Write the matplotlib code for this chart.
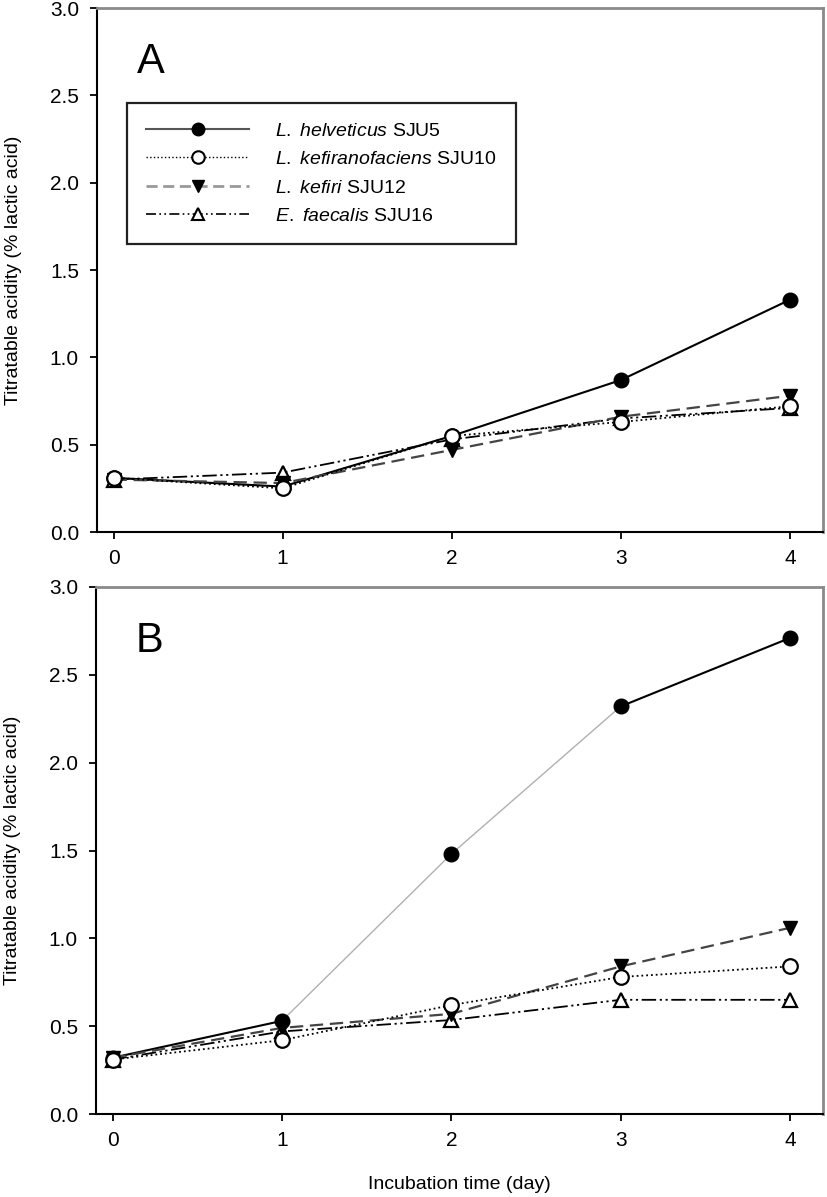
import matplotlib
matplotlib.use("Agg")
import matplotlib.pyplot as plt
from matplotlib.lines import Line2D

plt.rcParams['font.family'] = ['Liberation Sans', 'DejaVu Sans']
plt.rcParams['mathtext.fontset'] = 'custom'
plt.rcParams['mathtext.it'] = 'Liberation Sans:italic'
plt.rcParams['mathtext.rm'] = 'Liberation Sans'

days = [0, 1, 2, 3, 4]
xticks = [0, 1, 2, 3, 4]
yticks = [0.0, 0.5, 1.0, 1.5, 2.0, 2.5, 3.0]

labels = [r'$\it{L.}$ $\it{helveticus}$ SJU5',
          r'$\it{L.}$ $\it{kefiranofaciens}$ SJU10',
          r'$\it{L.}$ $\it{kefiri}$ SJU12',
          r'$\it{E.}$ $\it{faecalis}$ SJU16']

# Panel A
a_helveticus = [0.31, 0.26, 0.55, 0.87, 1.33]
a_kefiranofaciens = [0.31, 0.25, 0.55, 0.63, 0.72]
a_kefiri = [0.30, 0.28, 0.47, 0.66, 0.78]
a_faecalis = [0.30, 0.34, 0.53, 0.65, 0.71]

# Panel B
b_helveticus = [0.32, 0.53, 1.48, 2.32, 2.71]
b_kefiranofaciens = [0.31, 0.42, 0.62, 0.78, 0.84]
b_kefiri = [0.32, 0.49, 0.57, 0.84, 1.06]
b_faecalis = [0.31, 0.47, 0.535, 0.65, 0.65]

W, H = 827, 1197
fig = plt.figure(figsize=(W / 100, H / 100), dpi=100)

def px_axes(x0, y0, x1, y1):
    return fig.add_axes([x0 / W, 1 - y1 / H, (x1 - x0) / W, (y1 - y0) / H])

axA = px_axes(97, 8, 823, 532)
axB = px_axes(96, 587, 823, 1114)

ms = 10.5
styles = {
    'hel': dict(color='black', ls='-', lw=1.5, marker='o', mfc='black', mec='black', ms=ms),
    'kfc': dict(color='black', ls=':', lw=1.3, marker='o', mfc='white', mec='black', mew=1.6, ms=ms),
    'kef': dict(color='#444444', ls=(0, (6, 3)), lw=1.6, marker='v', mfc='black', mec='black', ms=ms),
    'fae': dict(color='black', ls=(0, (8, 2, 1.2, 2, 1.2, 2)), lw=1.3, marker='^', mfc='white', mec='black', mew=1.6, ms=ms),
}

def draw(ax, hel, kfc, kef, fae, split=False):
    if split:
        ax.plot(days[1:4], hel[1:4], color='#b0b0b0', lw=1.0, zorder=2)
        ax.plot(days[:2], hel[:2], color='black', lw=1.5, zorder=2)
        ax.plot(days[3:], hel[3:], color='black', lw=1.5, zorder=2)
        ax.plot(days, hel, ls='none', marker='o', mfc='black', mec='black', ms=ms, zorder=2)
    else:
        ax.plot(days, hel, zorder=2, **styles['hel'])
    ax.plot(days, fae, zorder=3, **styles['fae'])
    ax.plot(days, kef, zorder=4, **styles['kef'])
    ax.plot(days, kfc, zorder=5, **styles['kfc'])

draw(axA, a_helveticus, a_kefiranofaciens, a_kefiri, a_faecalis)
draw(axB, b_helveticus, b_kefiranofaciens, b_kefiri, b_faecalis, split=True)

for ax, letter in ((axA, 'A'), (axB, 'B')):
    ax.set_xlim(-0.098, 4.195)
    ax.set_ylim(0, 3.0)
    ax.set_xticks(xticks)
    ax.set_yticks(yticks)
    ax.set_yticklabels([f'{v:.1f}' for v in yticks])
    ax.tick_params(direction='out', length=5, width=1.3, labelsize=15, colors='black')
    ax.tick_params(axis='x', pad=7)
    ax.tick_params(axis='y', pad=8)
    for s in ('left', 'bottom'):
        ax.spines[s].set_linewidth(1.5)
        ax.spines[s].set_color('black')
    for s in ('top', 'right'):
        ax.spines[s].set_linewidth(2.0)
        ax.spines[s].set_color('#8a8a8a')
    ax.set_ylabel('Titratable acidity (% lactic acid)', fontsize=14)
    ax.yaxis.set_label_coords(-0.103, 0.5)
    ax.text(0.055, 0.897, letter, transform=ax.transAxes, fontsize=30, va='center', ha='left')

axB.set_xlabel('Incubation time (day)', fontsize=14, labelpad=19)

handles = [
    Line2D([], [], color='#555555', ls='-', lw=1.5, marker='o', mfc='black', mec='black', ms=9),
    Line2D([], [], color='black', ls=':', lw=1.0, marker='o', mfc='white', mec='black', mew=1.5, ms=9),
    Line2D([], [], color='#999999', ls=(0, (4, 2)), lw=2.0, marker='v', mfc='black', mec='black', ms=9),
    Line2D([], [], color='black', ls=(0, (6, 2, 1, 2, 1, 2)), lw=1.2, marker='^', mfc='white', mec='black', mew=1.5, ms=9),
]
leg = axA.legend(handles, labels, loc='upper left', bbox_to_anchor=(0.0413, 0.819),
                 fontsize=14, handlelength=5.3, handletextpad=1.3, labelspacing=0.55,
                 borderpad=1.0, fancybox=False, framealpha=1, edgecolor='#222222',
                 borderaxespad=0)
leg.get_frame().set_linewidth(1.6)

fig.savefig('out.png', dpi=100)
